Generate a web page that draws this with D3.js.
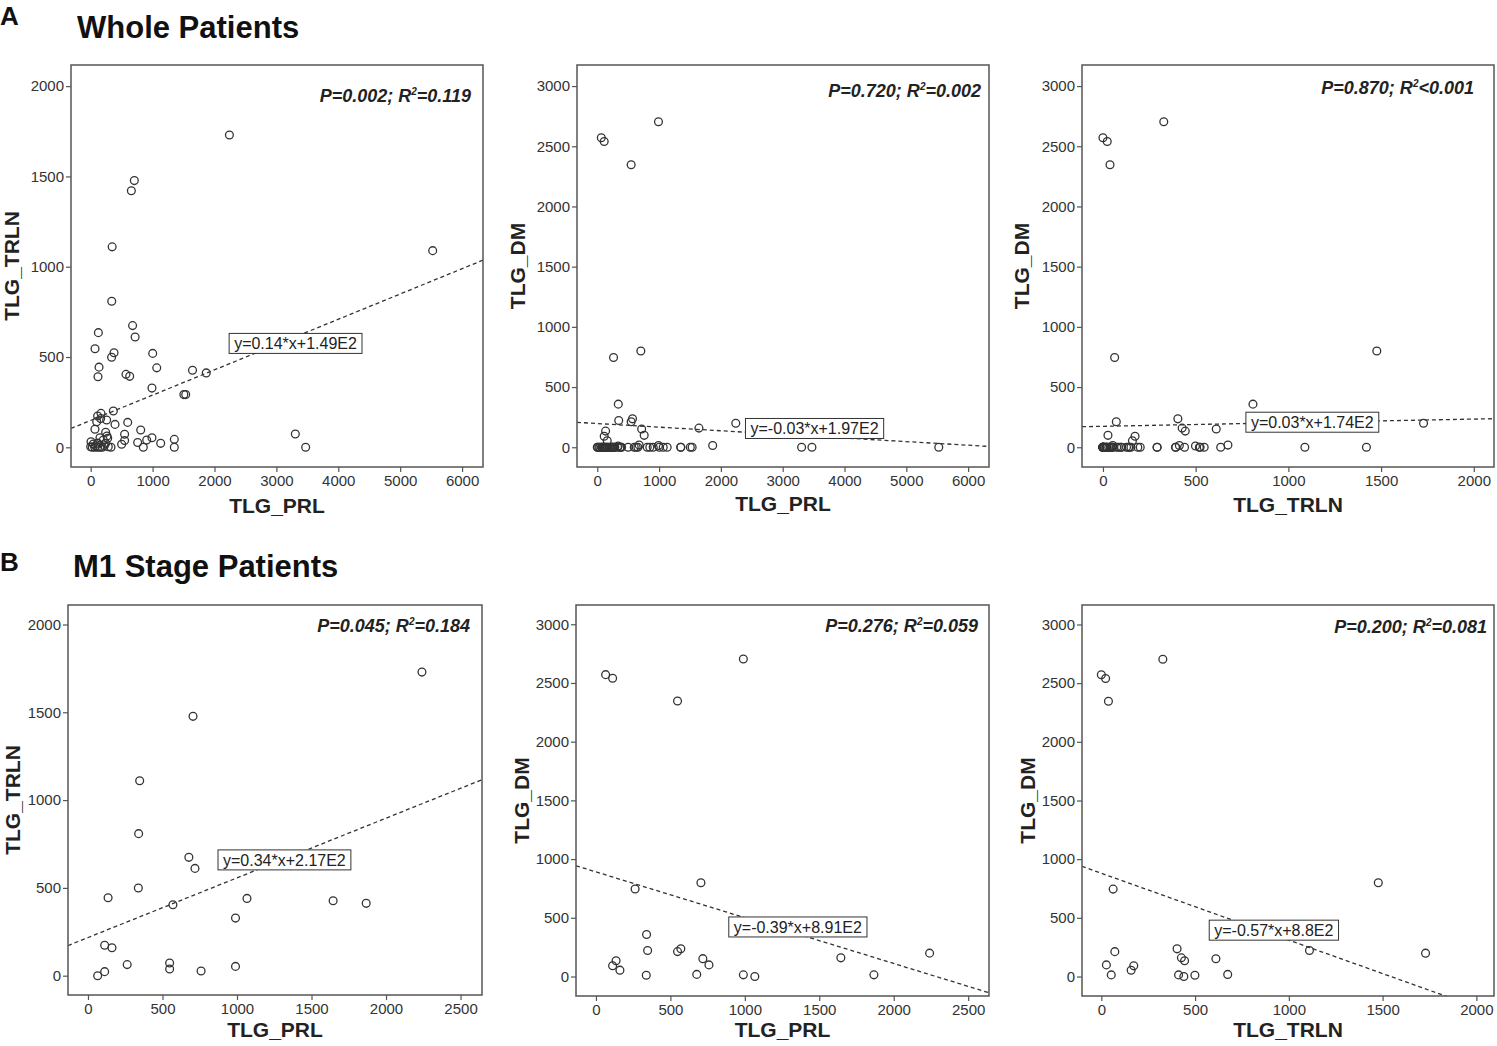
<!DOCTYPE html>
<html lang="en">
<head>
<meta charset="UTF-8">
<title>TLG correlations</title>
<style>
  body { margin: 0; background: #fff; }
  svg { display: block; font-family: "Liberation Sans", Arial, sans-serif; }
  .frame { fill: none; stroke: #555; stroke-width: 1.5; }
  .dot { fill: none; stroke: #333; stroke-width: 1.3; }
  .fit { fill: none; stroke: #333; stroke-width: 1.3; stroke-dasharray: 4 3; }
  .tick text { font-size: 15px; fill: #333; }
  .tick line { stroke: #555; stroke-width: 1.2; }
  .axis-title { font-size: 21px; font-weight: bold; fill: #222; }
  .stat { font-size: 18px; font-weight: bold; font-style: italic; fill: #222; }
  .fit-label text { font-size: 16px; fill: #222; }
  .fit-label rect { fill: #fff; stroke: #333; stroke-width: 1; }
  .heading { font-weight: bold; fill: #111; }
</style>
</head>
<body>
<div id="chart"></div>
<script src="https://cdnjs.cloudflare.com/ajax/libs/d3/7.8.5/d3.min.js"></script>
<script>
// M1 stage patients (PRL, TRLN, DM)
const m1PRL  = [65, 112, 112, 135, 161, 263, 338, 340, 347, 548, 548, 570, 677, 705, 718, 759, 990, 990, 1067, 1645, 1867, 2241];
const m1TRLN = [0, 23, 173, 444, 159, 63, 499, 809, 1110, 38, 72, 404, 674, 1477, 611, 27, 328, 53, 440, 427, 412, 1729];
const m1DM   = [2571, 2540, 91, 134, 54, 745, 11, 358, 222, 2346, 212, 236, 18, 799, 152, 99, 2704, 14, 0, 159, 14, 199];

// remaining patients (no distant metastasis)
const m0PRL  = [657, 5525, 124, 70, 377, 118, 1002, 630, 1505, 1535, 366, 166, 97, 258, 393, 598, 69, 808, 242, 150,
                905, 1351, 1351, 1131, 500, 850, 328, 3306, 3473, 5, 42, 81, 0, 26, 113, 150, 188, 220, 242, 275, 204, 284];
const m0TRLN = [1421, 1089, 635, 546, 524, 391, 520, 393, 292, 292, 201, 188, 142, 151, 127, 138, 100, 96, 83, 53,
                40, 44, 0, 22, 17, 0, 0, 74, 0, 31, 18, 9, 3, 0, 0, 0, 0, 9, 22, 50, 40, 3];
const m0DM   = [0, 0, 0, 0, 0, 0, 0, 0, 0, 0, 0, 0, 0, 0, 0, 0, 0, 0, 0, 0,
                0, 0, 0, 0, 0, 0, 0, 0, 0, 0, 0, 0, 0, 0, 0, 0, 0, 0, 0, 0, 0, 0];

const wholePRL  = m1PRL.concat(m0PRL);
const wholeTRLN = m1TRLN.concat(m0TRLN);
const wholeDM   = m1DM.concat(m0DM);

// fitted lines and statistics, panel order A1 A2 A3 B1 B2 B3
const fitSlope     = [0.14, -0.03, 0.03, 0.34, -0.39, -0.57];
const fitIntercept = [149, 197, 174, 217, 891, 880];
const fitText      = ["y=0.14*x+1.49E2", "y=-0.03*x+1.97E2", "y=0.03*x+1.74E2",
                      "y=0.34*x+2.17E2", "y=-0.39*x+8.91E2", "y=-0.57*x+8.8E2"];
const fitTextAt    = [[3309, 574], [3515, 154], [1129, 206], [1318, 658], [1356, 420], [920, 393]];
const pText        = ["0.002", "0.720", "0.870", "0.045", "0.276", "0.200"];
const r2Text       = ["=0.119", "=0.002", "<0.001", "=0.184", "=0.059", "=0.081"];

const ticksPRLWhole = [0, 1000, 2000, 3000, 4000, 5000, 6000];
const ticksPRLM1    = [0, 500, 1000, 1500, 2000, 2500];
const ticksTRLN     = [0, 500, 1000, 1500, 2000];
const ticksDM       = [0, 500, 1000, 1500, 2000, 2500, 3000];

const width = 1497, height = 1046;

// layout: frame [left, top, right, bottom], stat anchor [right inset, baseline offset]
const panels = [
  { xs: wholePRL,  ys: wholeTRLN, xl: "TLG_PRL",  yl: "TLG_TRLN", frame: [71, 65, 483, 467],  xDom: [-318, 6338], yDom: [-109, 2117], xt: ticksPRLWhole, yt: ticksTRLN, stat: [12, 37], xTitleY: 513, yTitleOff: 52 },
  { xs: wholePRL,  ys: wholeDM,   xl: "TLG_PRL",  yl: "TLG_DM",   frame: [577, 65, 989, 467], xDom: [-328, 6338], yDom: [-164, 3175], xt: ticksPRLWhole, yt: ticksDM,   stat: [8, 32],  xTitleY: 511, yTitleOff: 52 },
  { xs: wholeTRLN, ys: wholeDM,   xl: "TLG_TRLN", yl: "TLG_DM",   frame: [1082, 65, 1494, 467], xDom: [-113, 2109], yDom: [-164, 3175], xt: ticksTRLN, yt: ticksDM,   stat: [20, 29], xTitleY: 512, yTitleOff: 53 },
  { xs: m1PRL,     ys: m1TRLN,    xl: "TLG_PRL",  yl: "TLG_TRLN", frame: [68, 605, 482, 995],  xDom: [-134, 2644], yDom: [-110, 2111], xt: ticksPRLM1, yt: ticksTRLN,   stat: [12, 27], xTitleY: 1037, yTitleOff: 48 },
  { xs: m1PRL,     ys: m1DM,      xl: "TLG_PRL",  yl: "TLG_DM",   frame: [576, 605, 989, 996], xDom: [-134, 2640], yDom: [-166, 3164], xt: ticksPRLM1, yt: ticksDM,     stat: [11, 27], xTitleY: 1037, yTitleOff: 47 },
  { xs: m1TRLN,    ys: m1DM,      xl: "TLG_TRLN", yl: "TLG_DM",   frame: [1082, 605, 1494, 996], xDom: [-103, 2094], yDom: [-166, 3166], xt: ticksTRLN, yt: ticksDM,   stat: [7, 28],  xTitleY: 1037, yTitleOff: 47 }
];

const svg = d3.select("#chart").append("svg")
    .attr("width", width)
    .attr("height", height);

// headings
const headings = [
  { t: "A", x: 0, y: 25, s: 26 },
  { t: "Whole Patients", x: 77, y: 38, s: 31 },
  { t: "B", x: 0, y: 571, s: 26 },
  { t: "M1 Stage Patients", x: 73, y: 577, s: 31 }
];
svg.selectAll("text.heading").data(headings).enter().append("text")
    .attr("class", "heading")
    .attr("x", d => d.x).attr("y", d => d.y)
    .style("font-size", d => d.s + "px")
    .text(d => d.t);

const fmt = d3.format("d");

panels.forEach(function(p, i) {
  const [l, t, r, b] = p.frame;
  const x = d3.scaleLinear().domain(p.xDom).range([l, r]);
  const y = d3.scaleLinear().domain(p.yDom).range([b, t]);
  const g = svg.append("g");

  g.append("clipPath").attr("id", "clip" + i)
    .append("rect").attr("x", l).attr("y", t).attr("width", r - l).attr("height", b - t);

  // axes
  const ax = g.append("g").attr("transform", `translate(0,${b})`)
      .call(d3.axisBottom(x).tickValues(p.xt).tickFormat(fmt).tickSize(5).tickPadding(3));
  const ay = g.append("g").attr("transform", `translate(${l},0)`)
      .call(d3.axisLeft(y).tickValues(p.yt).tickFormat(fmt).tickSize(5).tickPadding(2));
  ax.select(".domain").remove();
  ay.select(".domain").remove();
  ax.attr("font-family", null).attr("font-size", null);
  ay.attr("font-family", null).attr("font-size", null);

  // points
  const pts = p.xs.map((v, k) => [v, p.ys[k]]);
  g.selectAll("circle").data(pts).enter().append("circle")
      .attr("class", "dot")
      .attr("cx", d => x(d[0]))
      .attr("cy", d => y(d[1]))
      .attr("r", 3.9);

  // regression line
  const line = d3.line().x(d => x(d)).y(d => y(fitSlope[i] * d + fitIntercept[i]));
  g.append("path")
      .attr("class", "fit")
      .attr("clip-path", `url(#clip${i})`)
      .attr("d", line(p.xDom));

  // equation label
  const lab = g.append("g").attr("class", "fit-label");
  const txt = lab.append("text")
      .attr("x", x(fitTextAt[i][0]))
      .attr("y", y(fitTextAt[i][1]))
      .attr("text-anchor", "middle")
      .attr("dy", "0.36em")
      .text(fitText[i]);
  const bb = txt.node().getBBox();
  lab.insert("rect", "text")
      .attr("x", bb.x - 5).attr("y", bb.y - 2)
      .attr("width", bb.width + 10).attr("height", bb.height + 3);

  // frame
  g.append("rect").attr("class", "frame")
      .attr("x", l).attr("y", t).attr("width", r - l).attr("height", b - t);

  // statistics
  const st = g.append("text").attr("class", "stat")
      .attr("x", r - p.stat[0]).attr("y", t + p.stat[1])
      .attr("text-anchor", "end");
  st.append("tspan").text("P=" + pText[i] + "; R");
  st.append("tspan").attr("dy", -7).style("font-size", "10px").text("2");
  st.append("tspan").attr("dy", 7).text(r2Text[i]);

  // axis titles
  g.append("text").attr("class", "axis-title")
      .attr("x", (l + r) / 2).attr("y", p.xTitleY)
      .attr("text-anchor", "middle")
      .text(p.xl);
  g.append("text").attr("class", "axis-title")
      .attr("transform", `translate(${l - p.yTitleOff},${(t + b) / 2}) rotate(-90)`)
      .attr("text-anchor", "middle")
      .text(p.yl);
});
</script>
</body>
</html>
